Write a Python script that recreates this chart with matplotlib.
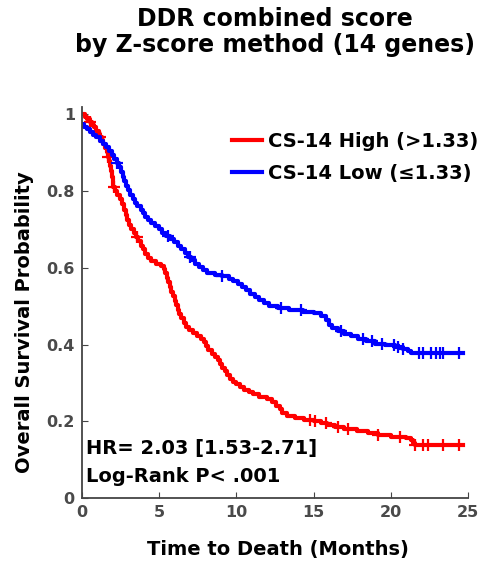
import numpy as np
import matplotlib.pyplot as plt

plt.rcParams['font.family'] = ['DejaVu Sans']
plt.rcParams['font.weight'] = 'bold'

# Kaplan-Meier step knots (time in months, survival probability)
high_t = [0.0, 0.2, 0.35, 0.5, 0.65, 0.8, 0.95, 1.1, 1.2, 1.3, 1.4, 1.5, 1.6,
          1.68, 1.76, 1.84, 1.9, 1.95, 2.0, 2.05, 2.15, 2.3, 2.45, 2.6, 2.72,
          2.84, 2.95, 3.05, 3.2, 3.35, 3.5, 3.65, 3.8, 3.95, 4.1, 4.3, 4.5, 4.8,
          5.1, 5.3, 5.4, 5.5, 5.6, 5.7, 5.8, 5.9, 6.0, 6.1, 6.2, 6.3, 6.45, 6.6,
          6.75, 6.95, 7.2, 7.45, 7.7, 7.9, 8.05, 8.2, 8.4, 8.6, 8.8, 8.95, 9.1,
          9.25, 9.4, 9.6, 9.8, 10.0, 10.25, 10.5, 10.8, 11.1, 11.5, 12.0, 12.3,
          12.6, 12.8, 12.95, 13.3, 13.8, 14.4, 15.0, 15.5, 15.9, 16.4, 17.0,
          17.8, 18.5, 19.2, 20.0, 21.0, 21.3, 21.45, 21.55]
high_s = [1.000, 0.993, 0.987, 0.980, 0.973, 0.966, 0.958, 0.950, 0.942, 0.934,
          0.924, 0.913, 0.902, 0.890, 0.878, 0.866, 0.852, 0.838, 0.824, 0.812,
          0.800, 0.790, 0.779, 0.766, 0.752, 0.738, 0.724, 0.712, 0.700, 0.690,
          0.680, 0.670, 0.658, 0.648, 0.636, 0.626, 0.617, 0.611, 0.605, 0.598,
          0.586, 0.574, 0.562, 0.550, 0.538, 0.526, 0.514, 0.502, 0.490, 0.479,
          0.468, 0.457, 0.446, 0.437, 0.430, 0.422, 0.414, 0.406, 0.396, 0.386,
          0.376, 0.368, 0.360, 0.350, 0.340, 0.330, 0.320, 0.311, 0.303, 0.296,
          0.289, 0.282, 0.276, 0.270, 0.264, 0.257, 0.249, 0.240, 0.231, 0.222,
          0.213, 0.208, 0.204, 0.200, 0.195, 0.190, 0.185, 0.180, 0.175, 0.170,
          0.163, 0.160, 0.157, 0.150, 0.143, 0.137]
high_end = 24.7
high_cens = [0.5, 1.2, 1.7, 2.1, 3.6, 14.8, 15.1, 15.8, 16.6, 17.2, 19.2, 20.6,
             21.6, 22.1, 22.4, 23.4, 24.4]

low_t = [0.0, 0.15, 0.35, 0.55, 0.75, 0.95, 1.15, 1.35, 1.55, 1.75, 1.95, 2.1,
         2.25, 2.4, 2.52, 2.64, 2.76, 2.88, 3.0, 3.15, 3.3, 3.45, 3.6, 3.8, 3.95,
         4.1, 4.3, 4.5, 4.75, 5.0, 5.2, 5.45, 5.7, 5.95, 6.2, 6.45, 6.7, 6.9,
         7.1, 7.35, 7.6, 7.85, 8.1, 8.6, 9.1, 9.5, 9.8, 10.1, 10.35, 10.6, 10.9,
         11.2, 11.5, 11.8, 12.1, 12.7, 13.4, 14.3, 15.0, 15.5, 15.8, 16.0, 16.2,
         16.6, 17.0, 17.4, 17.9, 18.4, 19.0, 19.6, 20.3, 20.8, 21.1, 21.3]
low_s = [0.975, 0.968, 0.961, 0.954, 0.947, 0.940, 0.932, 0.924, 0.915, 0.905,
         0.895, 0.885, 0.874, 0.862, 0.850, 0.838, 0.826, 0.814, 0.802, 0.791,
         0.780, 0.770, 0.761, 0.752, 0.742, 0.732, 0.724, 0.716, 0.708, 0.700,
         0.692, 0.684, 0.675, 0.667, 0.658, 0.649, 0.639, 0.629, 0.620, 0.611,
         0.602, 0.594, 0.586, 0.582, 0.578, 0.572, 0.566, 0.559, 0.550, 0.541,
         0.533, 0.524, 0.515, 0.507, 0.500, 0.496, 0.491, 0.486, 0.481, 0.475,
         0.463, 0.452, 0.442, 0.435, 0.428, 0.421, 0.414, 0.408, 0.402, 0.398,
         0.393, 0.389, 0.383, 0.377]
low_end = 24.7
low_cens = [2.3, 5.6, 7.0, 9.1, 12.9, 14.2, 16.8, 18.2, 18.8, 19.4, 20.2, 20.5,
            20.8, 21.8, 22.1, 22.6, 22.9, 23.2, 23.4, 24.4]

labels = ['CS-14 High (>1.33)', 'CS-14 Low (\u22641.33)']
colors = ['#ff0000', '#0000ff']


def km_at(tk, sk, x):
    idx = np.searchsorted(tk, x, side='right') - 1
    return np.asarray(sk)[idx]


fig = plt.figure(figsize=(4.87, 5.71), dpi=100)
ax = fig.add_axes([0.168, 0.128, 0.793, 0.685])

groups = [(high_t, high_s, high_end, high_cens), (low_t, low_s, low_end, low_cens)]
for (tk, sk, tend, cens), lab, col in zip(groups, labels, colors):
    tt = list(tk) + [tend]
    ss = list(sk) + [sk[-1]]
    ax.step(tt, ss, where='post', color=col, lw=3, label=lab)
    ax.plot(cens, km_at(tk, sk, cens), '+', color=col, ms=9, mew=1.6)

ax.set_xlim(0, 25)
ax.set_ylim(0, 1.02)
ax.set_xticks([0, 5, 10, 15, 20, 25])
ax.set_yticks([0, 0.2, 0.4, 0.6, 0.8, 1.0])
ax.set_yticklabels(['0', '0.2', '0.4', '0.6', '0.8', '1'])
for s in ['top', 'right']:
    ax.spines[s].set_visible(False)
for s in ['left', 'bottom']:
    ax.spines[s].set_color('#444444')
    ax.spines[s].set_linewidth(1.3)
ax.tick_params(direction='in', length=4, colors='#444444', labelsize=11.5,
               labelcolor='#4a4a4a', pad=5)

ax.set_xlabel('Time to Death (Months)', fontsize=14, fontweight='bold')
ax.set_ylabel('Overall Survival Probability', fontsize=14, fontweight='bold')
ax.xaxis.set_label_coords(0.508, -0.108)
ax.yaxis.set_label_coords(-0.124, 0.45)

fig.text(0.565, 0.988, 'DDR combined score\nby Z-score method (14 genes)',
         fontsize=17, fontweight='bold', ha='center', va='top', linespacing=1.12)

ax.legend(loc='upper left', bbox_to_anchor=(0.388, 0.935), frameon=False,
          fontsize=14, handlelength=1.55, handletextpad=0.3, labelspacing=0.65,
          borderpad=0, borderaxespad=0)

ax.text(0.012, 0.1125, 'HR= 2.03 [1.53-2.71]', transform=ax.transAxes,
        fontsize=14, fontweight='bold', va='baseline', ha='left')
ax.text(0.012, 0.041, 'Log-Rank P< .001', transform=ax.transAxes,
        fontsize=14, fontweight='bold', va='baseline', ha='left')

fig.savefig('out.png', dpi=100)
